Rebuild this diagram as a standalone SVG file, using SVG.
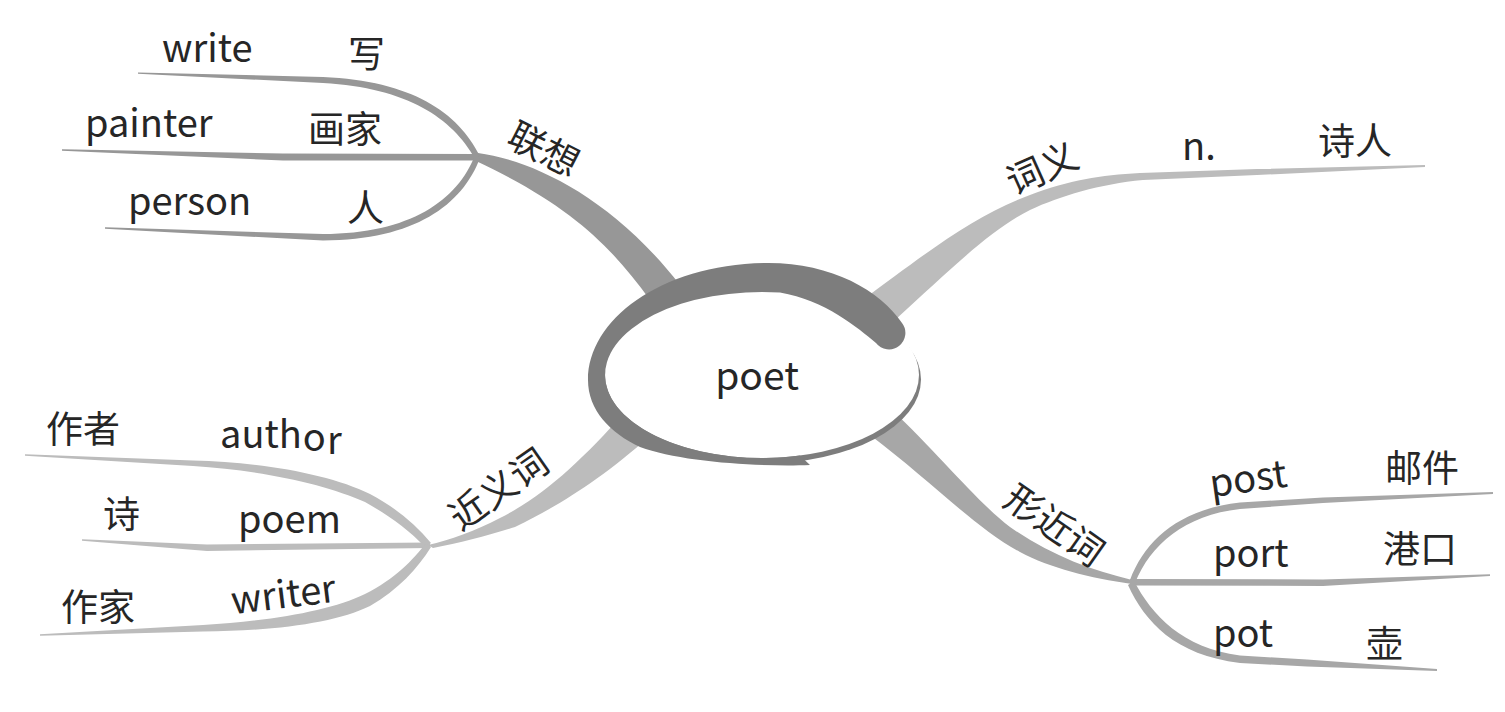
<svg xmlns="http://www.w3.org/2000/svg" width="1505" height="712" viewBox="0 0 1505 712">
<style>
text{font-family:"Noto Sans CJK SC","Noto Sans",sans-serif;fill:#262626}
.lat{font-size:38px}
.cjk{font-size:37px}
.lbl{font-size:37px;text-anchor:middle;dominant-baseline:central}
.b1{fill:#979797}
.b2{fill:#bcbcbc}
.b3{fill:#a7a7a7}
.ring{fill:#7d7d7d}
</style>
<rect width="1505" height="712" fill="#ffffff"/>
<g id="connectors">
<path class="b1" d="M478,153 C530,160 610,195 680,285 L650,300 C610,245 570,205 476,161 Z"/>
<path class="b2" d="M860,302 C930,250 975,215 1030,195 C1070,180 1100,175 1140,173 L1257,169 L1425,165 L1425,167 L1257,175 L1143,180 C1100,184 1060,196 1030,210 C990,230 950,270 895,320 Z"/>
<path class="b2" d="M625,412 C580,462 545,495 500,518 C475,531 450,540 428,545 L433,548 C460,543 490,535 515,527 C560,505 600,480 650,436 Z"/>
<path class="b3" d="M890,408 C940,455 975,500 1010,527 C1050,555 1090,570 1132,580 L1132,584 C1090,578 1050,568 1020,552 C975,528 930,480 870,435 Z"/>
<path class="b1" d="M138,72.5 L323,77 C412,81 458,112 480,156 L475,158.5 C452,118 408,88 323,83 L138,73.8 Z"/>
<path class="b1" d="M62,149.3 L283,153.5 L478,154 L478,160.5 L283,160.5 L62,150.7 Z"/>
<path class="b1" d="M105,227.3 L323,234 C410,234 458,200 475,155 L480,158 C462,205 415,240 323,240.5 L105,228.8 Z"/>
<path class="b2" d="M25,454.3 L193,460.5 C260,462 330,474 370,494 C395,507 415,524 431,543 L425,547 C408,529 388,515 365,502 C325,484 260,470 193,466 L25,455.7 Z"/>
<path class="b2" d="M82,539.3 L207,544.5 L430,542.5 L430,548 L207,551 L82,540.7 Z"/>
<path class="b2" d="M40,634.3 L203,625 C270,621 330,611 365,594 C395,579 413,560 426,543 L431,547 C418,568 398,590 370,606 C335,623 275,631 203,631.5 L40,635.7 Z"/>
<path class="b3" d="M1130,580 C1145,540 1180,509 1240,502.5 L1323,497.5 L1493,492 L1493,494 L1323,503 L1240,509 C1185,515 1150,545 1135,583 Z"/>
<path class="b3" d="M1130,579 L1323,579.5 L1490,574.3 L1490,576 L1323,586 L1130,585.5 Z"/>
<path class="b3" d="M1134,581 C1152,615 1182,648 1240,655.5 L1307,659.5 L1437,669 L1437,671 L1307,666.5 L1240,663 C1175,655 1145,622 1128,585 Z"/>
</g>
<g id="node-poet">
<ellipse class="ring" cx="763" cy="379.5" rx="158" ry="84"/>
<ellipse cx="762" cy="375" rx="157" ry="83" fill="#ffffff"/>
<path class="ring" d="M810,465 C760,467 680,462 640,447 C610,433 588,410 588,380 C588,320 660,265 765,263 C830,262 880,290 902,323 A16,16 0 0 1 876,343 C858,328 825,300 780,292.5 A157,83 0 1 0 800,455.5 Z"/>
<text x="757" y="390" text-anchor="middle" style="font-size:39px">poet</text>
</g>
<g id="node-lianxiang"><text class="lbl" transform="translate(545,147) rotate(27)">联想</text></g>
<g id="node-write"><text class="lat" x="162" y="62">write</text><text class="cjk" x="348" y="68">写</text></g>
<g id="node-painter"><text class="lat" x="85" y="137">painter</text><text class="cjk" x="308" y="143">画家</text></g>
<g id="node-person"><text class="lat" x="128" y="215">person</text><text class="cjk" x="347" y="222">人</text></g>
<g id="node-ciyi"><text class="lbl" transform="translate(1041,166) rotate(-24)">词义</text></g>
<g id="node-n"><text class="lat" x="1182" y="160">n.</text><text class="cjk" x="1318" y="155">诗人</text></g>
<g id="node-jinyici"><text class="lbl" transform="translate(497,487) rotate(-35)">近义词</text></g>
<g id="node-author"><text class="cjk" x="46" y="443">作者</text><text class="lat" x="220" y="448">auth<tspan dy="3" dx="1">o</tspan><tspan dy="3" dx="1">r</tspan></text></g>
<g id="node-poem"><text class="cjk" x="103" y="528">诗</text><text class="lat" x="238" y="533">poem</text></g>
<g id="node-writer"><text class="cjk" x="61" y="621">作家</text><text class="lat" x="284" y="608" text-anchor="middle" transform="rotate(-7 284 600)">writer</text></g>
<g id="node-xingjinci"><text class="lbl" transform="translate(1056,523) rotate(35)">形近词</text></g>
<g id="node-post"><text class="lat" x="1249" y="492" text-anchor="middle" transform="rotate(-8 1249 485)">post</text><text class="cjk" x="1385" y="482">邮件</text></g>
<g id="node-port"><text class="lat" x="1213" y="567">port</text><text class="cjk" x="1383" y="563">港口</text></g>
<g id="node-pot"><text class="lat" x="1213" y="647">pot</text><text class="cjk" x="1366" y="658">壶</text></g>
</svg>
